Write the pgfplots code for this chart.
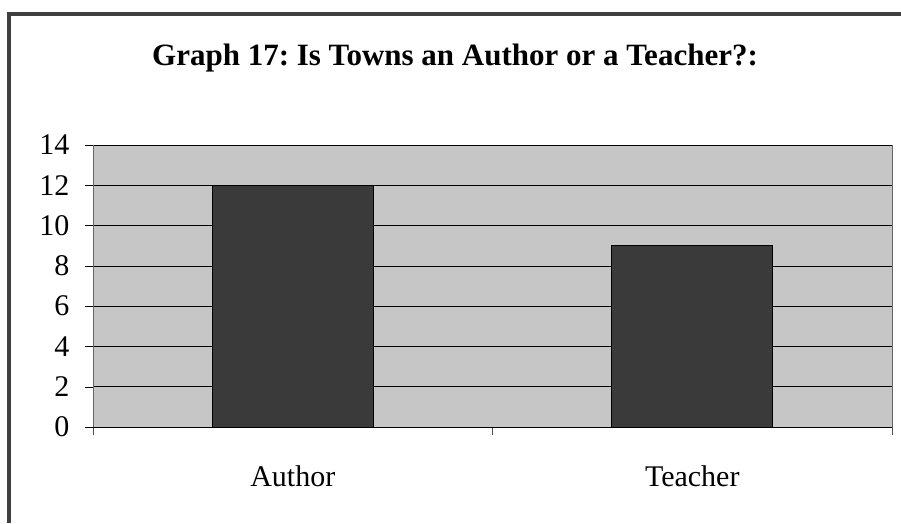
\documentclass[border=0pt]{standalone}
\usepackage{pgfplots}
\pgfplotsset{compat=1.18}
\usepackage{fontspec}
\setmainfont{Liberation Serif}
\definecolor{plotbg}{HTML}{C6C6C6}
\definecolor{barfill}{HTML}{3A3A3A}
\begin{document}
\frenchspacing
\begin{tikzpicture}[x=1pt,y=1pt]
\useasboundingbox (0,0) rectangle (901,523);
\fill[white] (0,0) rectangle (901,523);
% partial frame (left and top edges)
\draw[line width=3.5pt,black!75] (9,0) -- (9,509) -- (901,509);
\node[anchor=base,font=\fontsize{31}{36}\selectfont\bfseries] at (455,457)
  {Graph 17: Is Towns an Author or a Teacher?:};
\begin{axis}[
  at={(93pt,96pt)},anchor=south west,
  scale only axis,width=799pt,height=282pt,
  xmin=-0.5,xmax=1.5,
  ymin=0,ymax=14,
  ytick={0,2,...,14},
  xtick={0,1},
  xticklabels={Author,Teacher},
  minor xtick={-0.5,0.5,1.5},
  tick align=outside,
  tick pos=bottom,
  ytick pos=left,
  major tick length=8pt,
  minor tick length=8pt,
  major x tick style={draw=none},
  minor x tick style={black!70,thin},
  major y tick style={black,thin},
  ymajorgrids,
  major grid style={black,line width=0.6pt},
  axis background/.style={fill=plotbg},
  axis line style={black!55},
  separate axis lines,
  x axis line style={black,line width=0.8pt},
  y axis line style={black!60},
  ticklabel style={font=\fontsize{30}{36}\selectfont},
  /pgf/number format/assume math mode=true,
  yticklabel style={xshift=-12pt},
  xticklabel style={yshift=-27pt},
  ybar,
  bar width=161pt,
]
\addplot[fill=barfill,draw=black,line width=0.8pt] coordinates {(0,12) (1,9)};
\end{axis}
\end{tikzpicture}
\end{document}
